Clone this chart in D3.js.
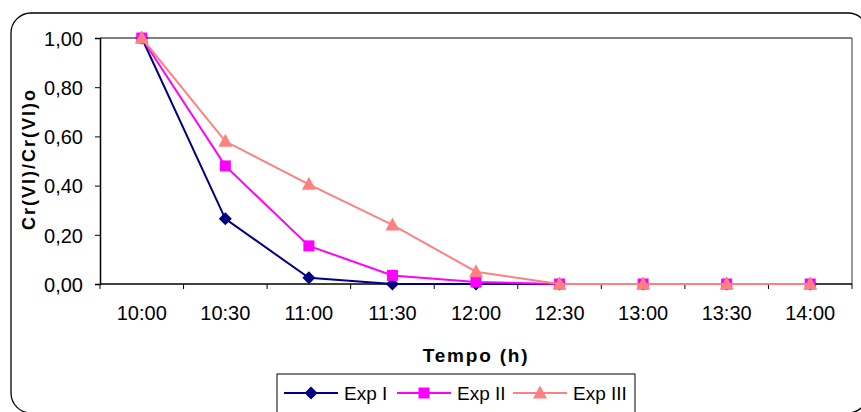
<!DOCTYPE html>
<html><head><meta charset="utf-8">
<script src="https://cdn.jsdelivr.net/npm/d3@7"></script>
<style>body{margin:0;background:#fff}svg{display:block}svg text{font-family:"Liberation Sans",Arial,sans-serif !important}</style>
</head><body>
<svg id="c" width="861" height="412"></svg>
<script>
const categories = ["10:00","10:30","11:00","11:30","12:00","12:30","13:00","13:30","14:00"];
const expI   = [1.00, 0.265, 0.025, 0.000, 0.000, 0.000, 0.000, 0.000, 0.000];
const expII  = [1.00, 0.48, 0.155, 0.035, 0.008, 0.000, 0.000, 0.000, 0.000];
const expIII = [1.00, 0.58, 0.405, 0.24, 0.05, 0.000, 0.000, 0.000, 0.000];
const yTicks = [0, 0.2, 0.4, 0.6, 0.8, 1.0];
const seriesNames = ["Exp I","Exp II","Exp III"];

const FF = "Liberation Sans, Arial, sans-serif";
const svg = d3.select("#c");
svg.append("rect").attr("x",11).attr("y",13).attr("width",857).attr("height",400)
  .attr("rx",20).attr("fill","#fff").attr("stroke","#000").attr("stroke-width",1.3);

const L=100, R=852, T=38, B=284;
const x = d3.scaleBand().domain(categories).range([L,R]);
const y = d3.scaleLinear().domain([0,1]).range([B,T]);

// plot frame
svg.append("line").attr("x1",L).attr("x2",R).attr("y1",T).attr("y2",T).attr("stroke","#000").attr("stroke-width",1.2);
svg.append("line").attr("x1",R).attr("x2",R).attr("y1",T).attr("y2",B).attr("stroke","#555").attr("stroke-width",1.2);

const fmt = d => d.toFixed(2).replace(".", ",");
const ya = svg.append("g").attr("transform",`translate(${L},0)`)
  .call(d3.axisLeft(y).tickValues(yTicks).tickFormat(fmt).tickSize(5).tickPadding(12));
ya.attr("font-family",FF);
ya.select(".domain").attr("stroke","#000").attr("stroke-width",1.5);
ya.selectAll(".tick line").attr("stroke","#000");
ya.selectAll("text").attr("font-size",20).attr("fill","#000").attr("dy","0.36em");

// x axis with ticks at band boundaries
const xa = svg.append("g").attr("transform",`translate(0,${B})`);
xa.append("line").attr("x1",L).attr("x2",R).attr("stroke","#000").attr("stroke-width",1.5);
const bounds = categories.map(c=>x(c)).concat([R]);
xa.selectAll(".tk").data(bounds).join("line").attr("x1",d=>d).attr("x2",d=>d).attr("y1",0).attr("y2",5).attr("stroke","#000");
xa.selectAll(".lb").data(categories).join("text").attr("x",d=>x(d)+x.bandwidth()/2).attr("y",36)
  .attr("text-anchor","middle").attr("font-family",FF).attr("font-size",20).attr("fill","#000").text(d=>d);

svg.append("text").attr("x",476).attr("y",362).attr("text-anchor","middle").attr("font-family",FF).attr("font-size",19)
  .attr("font-weight","bold").attr("letter-spacing","1.8px").text("Tempo (h)");
svg.append("text").attr("transform","translate(35,159) rotate(-90)").attr("text-anchor","middle").attr("font-family",FF)
  .attr("font-size",18).attr("font-weight","bold").attr("letter-spacing","2px").text("Cr(VI)/Cr(VI)o");

const colors = ["#000080","#FF00FF","#FF8080"];
const data = [expI, expII, expIII];
const cx = c => x(c)+x.bandwidth()/2;
const line = d3.line().x((d,i)=>cx(categories[i])).y(d=>y(d));

function marker(g, k, px, py){
  if(k===0) g.append("path").attr("d",`M${px},${py-6.5}L${px+6.5},${py}L${px},${py+6.5}L${px-6.5},${py}Z`).attr("fill",colors[0]);
  else if(k===1) g.append("rect").attr("x",px-5.5).attr("y",py-5.5).attr("width",11).attr("height",11).attr("fill",colors[1]);
  else g.append("path").attr("d",`M${px},${py-7.5}L${px+7},${py+5.5}L${px-7},${py+5.5}Z`).attr("fill",colors[2]);
}

data.forEach((vals,k)=>{
  const g = svg.append("g");
  g.append("path").datum(vals).attr("d",line).attr("fill","none").attr("stroke",colors[k]).attr("stroke-width",2);
  vals.forEach((v,i)=>marker(g,k,cx(categories[i]),y(v)));
});

// legend
svg.append("rect").attr("x",277).attr("y",374).attr("width",358).attr("height",45).attr("fill","#fff").attr("stroke","#000").attr("stroke-width",1);
const lx = [284, 397, 513];
seriesNames.forEach((n,k)=>{
  const g = svg.append("g");
  g.append("line").attr("x1",lx[k]).attr("x2",lx[k]+54).attr("y1",393).attr("y2",393).attr("stroke",colors[k]).attr("stroke-width",2);
  marker(g,k,lx[k]+27,393);
  g.append("text").attr("x",lx[k]+60).attr("y",400).attr("font-family",FF).attr("font-size",19).attr("fill","#000").text(n);
});
</script>
</body></html>
